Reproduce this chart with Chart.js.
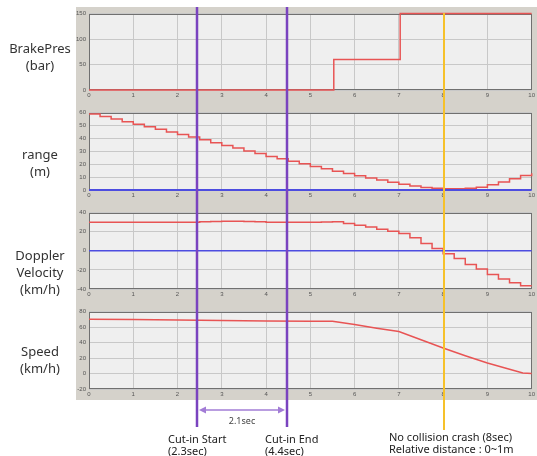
<!DOCTYPE html>
<html>
<head>
<meta charset="utf-8">
<script src="https://cdn.jsdelivr.net/npm/chart.js@4.4.1/dist/chart.umd.min.js"></script>
<style>
  body { margin: 0; width: 537px; height: 456px; background: #fff; position: relative; overflow: hidden; font-family: "Noto Sans", sans-serif; }
  #panel { position: absolute; left: 76px; top: 7px; width: 461px; height: 393px; background: #d5d2cb; }
  canvas.plot { position: absolute; left: 76px; }
  #overlay { position: absolute; left: 0; top: 0; pointer-events: none; }
  .lbl { position: absolute; left: 0; width: 80px; text-align: center; font-size: 13px; line-height: 17px; color: #333; }
  .note { position: absolute; font-size: 11px; line-height: 12px; color: #222; white-space: nowrap; }
</style>
</head>
<body>
<div id="panel"></div>
<canvas id="c0" class="plot"></canvas>
<canvas id="c1" class="plot"></canvas>
<canvas id="c2" class="plot"></canvas>
<canvas id="c3" class="plot"></canvas>
<canvas id="overlay" width="537" height="456"></canvas>

<div class="lbl" style="top:40px">BrakePres<br>(bar)</div>
<div class="lbl" style="top:146px">range<br>(m)</div>
<div class="lbl" style="top:247px">Doppler<br>Velocity<br>(km/h)</div>
<div class="lbl" style="top:343px">Speed<br>(km/h)</div>

<div class="note" style="left:168px;top:433px">Cut-in Start<br>(2.3sec)</div>
<div class="note" style="left:265px;top:433px">Cut-in End<br>(4.4sec)</div>
<div class="note" style="left:389px;top:431px">No collision crash (8sec)<br>Relative distance : 0~1m</div>

<script>
// time axis shared by all four panels
const xTicks = [0, 1, 2, 3, 4, 5, 6, 7, 8, 9, 10];

// brake pressure (bar), step changes
const brakeTime = [0, 5.53, 7.03, 10];
const brakePres = [0, 60, 150, 150];

// range & doppler sampled every 0.25 s (held values)
const stepTime = [0, 0.25, 0.5, 0.75, 1, 1.25, 1.5, 1.75, 2, 2.25, 2.5, 2.75, 3, 3.25, 3.5, 3.75, 4, 4.25, 4.5, 4.75,
  5, 5.25, 5.5, 5.75, 6, 6.25, 6.5, 6.75, 7, 7.25, 7.5, 7.75, 8, 8.25, 8.5, 8.75, 9, 9.25, 9.5, 9.75, 10];
const rangeM = [59, 57, 55, 53, 51, 49, 47, 45, 43, 41, 39, 36.7, 34.4, 32.5, 30.2, 28.2, 26, 24.2, 22.2, 20.4,
  18.3, 16.5, 14.5, 12.7, 11, 9.3, 7.8, 6, 4.4, 3.1, 1.9, 1.3, 1, 1, 1.4, 2.2, 4, 6.2, 8.8, 11.2, 13];
const dopplerKmh = [30, 30, 30, 30, 30, 30, 30, 30, 30, 30, 30.4, 30.8, 31, 31, 30.8, 30.4, 30, 29.8, 29.8, 29.8,
  30, 30.2, 30.3, 28.5, 26.8, 25, 22.6, 20.5, 18, 13.6, 7.7, 2.4, -3, -8, -14.3, -19, -24.7, -29.6, -33.4, -36.5, -36.5];

// vehicle speed (km/h)
const speedTime = [0, 1, 2, 3, 4, 5, 5.5, 6, 6.5, 7, 7.5, 8, 8.5, 9, 9.5, 9.8, 10];
const speedKmh = [70.2, 69.8, 69.2, 68.6, 68, 67.6, 67.6, 63.4, 58.6, 54.3, 43.6, 32.9, 23, 13.6, 5.4, 0.8, 0];

// zero reference line
const zeroTime = [0, 10];
const zeroVal = [0, 0];

const brakeTicks = [0, 50, 100, 150];
const rangeTicks = [0, 10, 20, 30, 40, 50, 60];
const dopplerTicks = [-40, -20, 0, 20, 40];
const speedTicks = [-20, 0, 20, 40, 60, 80];

// event markers (s)
const cutInStart = 2.43;
const cutInEnd = 4.47;
const noCrash = 8.02;

const RED = "#e85454";
const BLUE = "#4d4de0";

const pts = (xs, ys) => xs.map((x, i) => ({ x: x, y: ys[i] }));

// grey plot background and dark frame, drawn under the data lines
const plotFrame = {
  id: "plotFrame",
  beforeDraw(chart) {
    const { ctx, chartArea: a } = chart;
    ctx.save();
    ctx.fillStyle = "#efefef";
    ctx.fillRect(a.left, a.top, a.right - a.left, a.bottom - a.top);
    ctx.restore();
  },
  beforeDatasetsDraw(chart) {
    const { ctx, chartArea: a } = chart;
    ctx.save();
    ctx.strokeStyle = "#707070";
    ctx.lineWidth = 1;
    ctx.strokeRect(Math.round(a.left) + 0.5, Math.round(a.top) + 0.5,
      Math.round(a.right - a.left) - 1, Math.round(a.bottom - a.top) - 1);
    ctx.restore();
  }
};

function makePanel(id, plotTop, plotBottom, datasets, yMin, yMax, yTicks) {
  const canvas = document.getElementById(id);
  canvas.width = 461;
  canvas.height = plotBottom - plotTop + 16;
  canvas.style.top = (plotTop - 6) + "px";
  return new Chart(canvas.getContext("2d"), {
    type: "line",
    data: { datasets: datasets },
    options: {
      responsive: false,
      animation: false,
      layout: { padding: { top: 6, right: 3, bottom: 0, left: 0 } },
      plugins: { legend: { display: false }, tooltip: { enabled: false } },
      elements: { point: { radius: 0 } },
      datasets: { line: { clip: 3 } },
      scales: {
        x: {
          type: "linear", min: 0, max: 10,
          afterBuildTicks: (s) => { s.ticks = xTicks.map(v => ({ value: v })); },
          afterFit: (s) => { s.height = 10; },
          grid: { color: "#c8c8c8", drawTicks: false },
          border: { display: false },
          ticks: { color: "#555", font: { size: 6 }, padding: 2, maxRotation: 0 }
        },
        y: {
          min: yMin, max: yMax,
          afterBuildTicks: (s) => { s.ticks = yTicks.map(v => ({ value: v })); },
          afterFit: (s) => { s.width = 13; },
          grid: { color: "#c8c8c8", drawTicks: false },
          border: { display: false },
          ticks: { color: "#555", font: { size: 6 }, padding: 3 }
        }
      }
    },
    plugins: [plotFrame]
  });
}

const charts = [
  makePanel("c0", 13, 90, [
    { data: pts(brakeTime, brakePres), borderColor: RED, borderWidth: 1.5, stepped: true }
  ], 0, 150, brakeTicks),
  makePanel("c1", 112, 190, [
    { data: pts(zeroTime, zeroVal), borderColor: BLUE, borderWidth: 2 },
    { data: pts(stepTime, rangeM), borderColor: RED, borderWidth: 1.5, stepped: true }
  ], 0, 60, rangeTicks),
  makePanel("c2", 212, 289, [
    { data: pts(zeroTime, zeroVal), borderColor: BLUE, borderWidth: 1.5 },
    { data: pts(stepTime, dopplerKmh), borderColor: RED, borderWidth: 1.5, stepped: true }
  ], -40, 40, dopplerTicks),
  makePanel("c3", 311, 389, [
    { data: pts(speedTime, speedKmh), borderColor: RED, borderWidth: 1.5 }
  ], -20, 80, speedTicks)
];

// event lines and the cut-in interval arrow, placed with the shared time scale
const ov = document.getElementById("overlay").getContext("2d");
const xAt = (t) => 76 + charts[0].scales.x.getPixelForValue(t);

function vline(t, y0, y1, color, w) {
  const x = Math.round(xAt(t));
  ov.strokeStyle = color;
  ov.lineWidth = w;
  ov.beginPath();
  ov.moveTo(x, y0);
  ov.lineTo(x, y1);
  ov.stroke();
}

vline(cutInStart, 7, 427, "#7a43bf", 2.5);
vline(cutInEnd, 7, 427, "#7a43bf", 2.5);
vline(noCrash, 13, 430, "#f6c12a", 2);

const xa = Math.round(xAt(cutInStart)) + 2;
const xb = Math.round(xAt(cutInEnd)) - 2;
const ay = 410;
ov.strokeStyle = "#a27cd6";
ov.fillStyle = "#a27cd6";
ov.lineWidth = 1.5;
ov.beginPath();
ov.moveTo(xa + 4, ay);
ov.lineTo(xb - 4, ay);
ov.stroke();
ov.beginPath();
ov.moveTo(xa, ay); ov.lineTo(xa + 7, ay - 3.5); ov.lineTo(xa + 7, ay + 3.5); ov.closePath();
ov.fill();
ov.beginPath();
ov.moveTo(xb, ay); ov.lineTo(xb - 7, ay - 3.5); ov.lineTo(xb - 7, ay + 3.5); ov.closePath();
ov.fill();
ov.fillStyle = "#444";
ov.font = "9px 'Noto Sans', sans-serif";
ov.textAlign = "center";
ov.textBaseline = "middle";
ov.fillText("2.1sec", (xa + xb) / 2, 421);
</script>
</body>
</html>
